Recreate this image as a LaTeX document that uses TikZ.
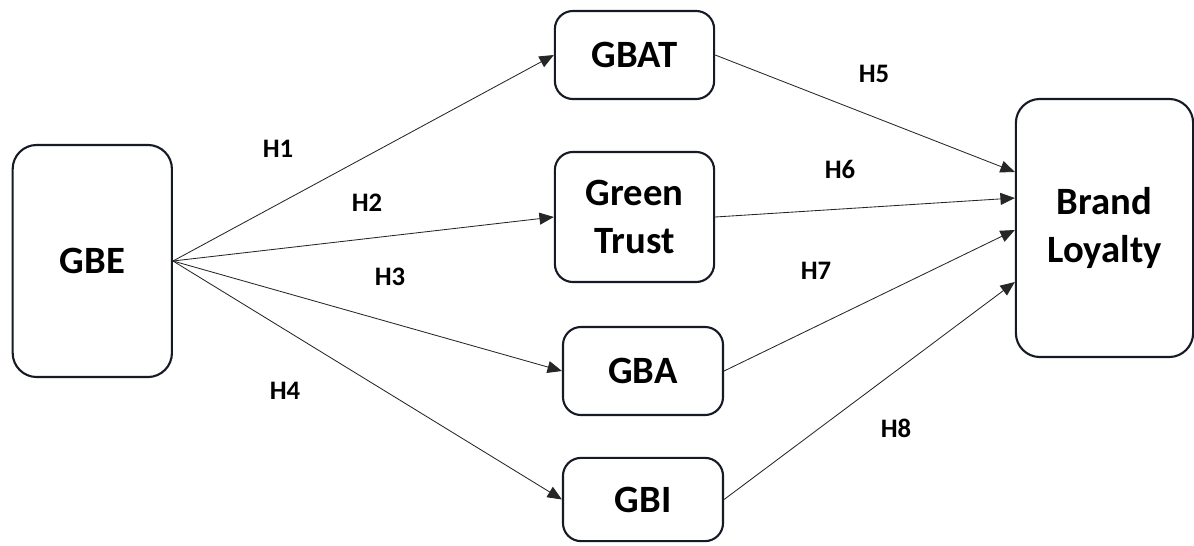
\documentclass[tikz,border=0pt]{standalone}
\usepackage{fontspec}
\setmainfont{Carlito}
\usepackage{tikz}
\usetikzlibrary{arrows.meta, shapes, positioning}
\definecolor{boxline}{RGB}{22,26,38}
\tikzstyle{bigbox} = [rectangle, rounded corners = 0.6cm, draw = boxline, line width = 1.5pt,
inner sep = 0pt, text centered, align = center, font = \bfseries\fontsize{27.5}{34}\selectfont]
\tikzstyle{box} = [rectangle, rounded corners = 0.45cm, draw = boxline, line width = 1.5pt,
inner sep = 0pt, text centered, align = center, font = \bfseries\fontsize{27.5}{34}\selectfont]
\tikzstyle{hyp} = [font = \bfseries\fontsize{19}{22}\selectfont]
\tikzstyle{arrow} = [line width = 0.6pt, draw = black!85, -{Triangle[length = 0.36cm, width = 0.3cm]}]

\begin{document}
\begin{tikzpicture}[x = 0.025cm, y = -0.025cm]

    \useasboundingbox (0,0) rectangle (1194,545);

    \node (gbe) [bigbox, minimum width = 3.98cm, minimum height = 5.8cm] at (92.3,261) {GBE};
    \node (gbat) [box, minimum width = 3.98cm, minimum height = 2.2cm] at (634.5,55) {GBAT};
    \node (trust) [box, minimum width = 3.98cm, minimum height = 3.25cm] at (634.5,217) {Green\\Trust};
    \node (gba) [box, minimum width = 4cm, minimum height = 2.2cm] at (643,371) {GBA};
    \node (gbi) [box, minimum width = 4cm, minimum height = 2.08cm] at (643,499.5) {GBI};
    \node (loyalty) [bigbox, minimum width = 4.43cm, minimum height = 6.45cm] at (1104.5,228) {Brand\\Loyalty};

    \node (h1) [hyp] at (278,149) {H1};
    \node (h2) [hyp] at (367,203) {H2};
    \node (h3) [hyp] at (390,277) {H3};
    \node (h4) [hyp] at (285,391) {H4};
    \node (h5) [hyp] at (874,74) {H5};
    \node (h6) [hyp] at (840,169) {H6};
    \node (h7) [hyp] at (816,271) {H7};
    \node (h8) [hyp] at (896,428) {H8};

    \draw[arrow] (gbe.east) -- (gbat.west);
    \draw[arrow] (gbe.east) -- (trust.west);
    \draw[arrow] (gbe.east) -- (gba.west);
    \draw[arrow] (gbe.east) -- (gbi.west);
    \draw[arrow] (gbat.east) -- ([yshift = 1.4cm]loyalty.west);
    \draw[arrow] (trust.east) -- ([yshift = 0.75cm]loyalty.west);
    \draw[arrow] (gba.east) -- ([yshift = -0.05cm]loyalty.west);
    \draw[arrow] (gbi.east) -- ([yshift = -1.35cm]loyalty.west);

\end{tikzpicture}
\end{document}
